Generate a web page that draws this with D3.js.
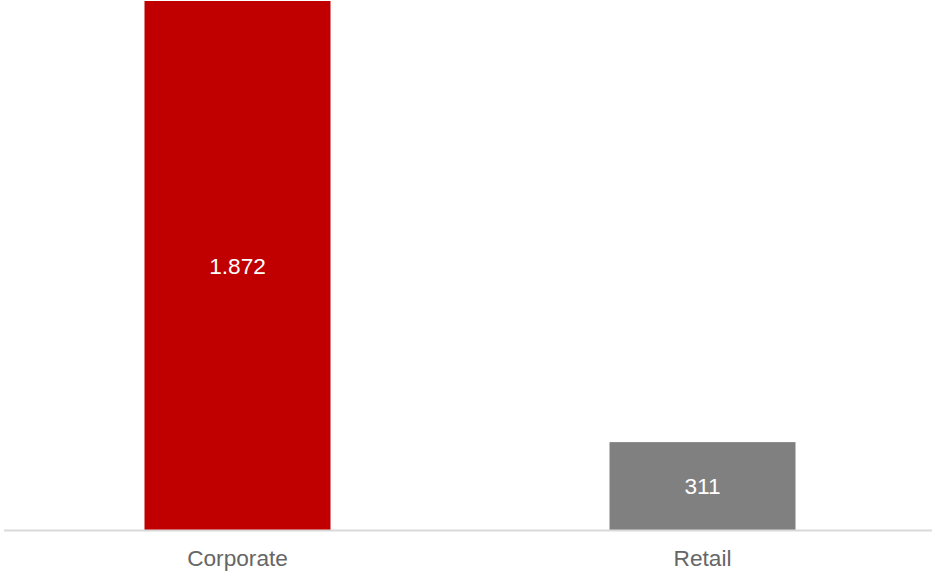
<!DOCTYPE html>
<html>
<head>
<meta charset="utf-8">
<script src="https://cdn.jsdelivr.net/npm/d3@7"></script>
<style>
  html, body { margin: 0; padding: 0; background: #ffffff; }
  svg { display: block; }
</style>
</head>
<body>
<svg id="chart" width="932" height="573"></svg>
<script>
// Segments and their values
const categories = ["Corporate", "Retail"];
const values = [1872, 311];
const valueLabels = ["1.872", "311"];
const barColors = ["#C00000", "#808080"];

const width = 932, height = 573;
const margin = { top: 1, right: 0, bottom: 43, left: 5 };
const baseline = height - margin.bottom;

const svg = d3.select("#chart");

const x = d3.scaleBand()
  .domain(categories)
  .range([margin.left, 935])
  .paddingInner(0.6)
  .paddingOuter(0.3);

const y = d3.scaleLinear()
  .domain([0, d3.max(values)])
  .range([baseline, margin.top]);

const data = categories.map((c, i) => ({ c, v: values[i], label: valueLabels[i], color: barColors[i] }));

// Bars
svg.selectAll("rect.bar")
  .data(data)
  .join("rect")
  .attr("class", "bar")
  .attr("x", d => x(d.c))
  .attr("width", x.bandwidth())
  .attr("y", d => y(d.v))
  .attr("height", d => y(0) - y(d.v))
  .attr("fill", d => d.color);

// Value labels centred inside each bar
svg.selectAll("text.value")
  .data(data)
  .join("text")
  .attr("class", "value")
  .attr("x", d => x(d.c) + x.bandwidth() / 2)
  .attr("y", d => (y(d.v) + y(0)) / 2 + 8)
  .attr("text-anchor", "middle")
  .attr("fill", "#ffffff")
  .style("font-family", "'Liberation Sans', Arial, sans-serif")
  .style("font-size", "22.67px")
  .text(d => d.label);

// Category axis
const axis = svg.append("g")
  .attr("transform", `translate(0,${baseline + 0.5})`)
  .call(d3.axisBottom(x).tickSize(0).tickPadding(19));

axis.select(".domain")
  .attr("d", `M4,0H932`)
  .attr("stroke", "#d9d9d9")
  .attr("stroke-width", 2);

axis.selectAll(".tick text")
  .attr("fill", "#666666")
  .style("font-family", "'Liberation Sans', Arial, sans-serif")
  .style("font-size", "22.67px");
</script>
</body>
</html>
